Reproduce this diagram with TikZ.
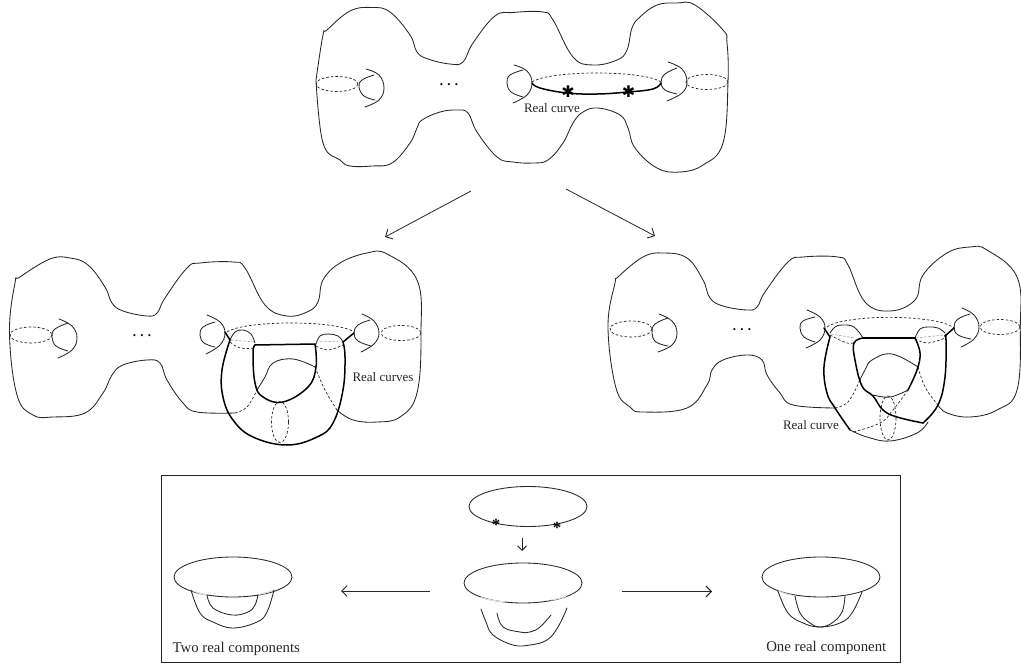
\documentclass[tikz,border=0pt]{standalone}
\usepackage{fontspec}
\setmainfont{Liberation Serif}
\newfontfamily\symfont{DejaVu Sans}
\usetikzlibrary{arrows.meta}
\tikzset{
  x=1pt,y=-1pt,
  thin line/.style={line width=0.85pt,black!85,line join=round,line cap=round},
  thick line/.style={line width=1.5pt,black,line join=round,line cap=round},
  dash line/.style={line width=0.7pt,black!85,dash pattern=on 2.6pt off 2pt},
  pale line/.style={line width=0.7pt,black!30,dash pattern=on 2.6pt off 1.5pt},
  pale solid/.style={line width=1.2pt,black!12},
  arrow line/.style={line width=0.8pt,black!85,-{Straight Barb[length=5.5pt,width=11pt,line width=0.9pt]}},
  small arrow/.style={line width=0.8pt,black!85,-{Straight Barb[length=4.5pt,width=9pt,line width=0.9pt]}},
  lab/.style={inner sep=0pt,font=\fontsize{13}{13}\selectfont,text=black!85},
  boxlab/.style={inner sep=0pt,font=\fontsize{14.8}{14.8}\selectfont,text=black!85},
  dotslab/.style={inner sep=0pt,font=\fontsize{13}{13}\selectfont\bfseries},
  bigstar/.style={inner sep=0pt,font=\symfont\fontsize{16}{16}\selectfont},
  smallstar/.style={inner sep=0pt,font=\fontsize{17}{17}\selectfont\bfseries},
  box/.style={draw=black!85,line width=0.8pt},
}
\newcommand{\sm}[1]{plot[smooth,tension=0.68] coordinates {#1}}
\begin{document}
\begin{tikzpicture}
\useasboundingbox (0,0) rectangle (1021,663);

% ---------- top surface
\draw[thin line] \sm{(316,80) (323,35) (327,30) (350,11) (372,7.5) (390,12) (410,35) (417,52) (428,59) (450,64) (463,62) (473,43) (495,16) (513,12.5) (543,12) (553,20) (573,57) (593,65) (617,60) (627,50) (632,28) (640,17) (657,5) (677,3) (695,5) (723,30) (727,43) (728,82) (723,143) (703,165) (680,172) (657,168) (635,148) (628,128) (620,115) (598,108) (583,112) (573,123) (563,143) (548,160) (533,163) (513,162) (497,157) (477,132) (468,113) (457,110) (440,112) (422,120) (417,128) (410,143) (392,163) (372,166) (350,166) (340,160) (323,143) (316,80)};
\draw[dash line] (337,84) ellipse [x radius=21,y radius=7.5];
\draw[dash line] (707,82) ellipse [x radius=21,y radius=7.5];
\draw[dash line] (532,82) .. controls (550,70) and (644,70) .. (661,82);
\draw[thin line] \sm{(366,69) (379,75) (384,88) (379,100) (365,107)};
\draw[thin line] \sm{(374,75) (362,80) (359,87) (364,96) (375,100)};
\draw[thin line] \sm{(514,65) (527,71) (532,83) (527,95) (513,103)};
\draw[thin line] \sm{(523,70) (510,75) (507,83) (511,92) (523,97)};
\draw[thin line] \sm{(668,62) (682,69) (687,82) (682,93) (667,101)};
\draw[thin line] \sm{(677,68) (665,74) (661,82) (665,90) (677,94)};
\draw[thick line] \sm{(532,83) (540,88) (567,93) (597,94) (628,92) (653,89) (661,83)};
\node[bigstar] (s1) at (568,92) {✱};
\node[bigstar] (s2) at (628.5,92) {✱};
\node[dotslab] (d1) at (449,85) {. . .};
\node[lab] (l1) at (552,108.5) {Real curve};

% ---------- arrows between levels
\coordinate (a1) at (471,191); \coordinate (a2) at (385,237);
\coordinate (b1) at (566,189); \coordinate (b2) at (655,236);
\draw[arrow line] (a1) -- (a2);
\draw[arrow line] (b1) -- (b2);

% ---------- left surface
\draw[thin line] \sm{(337,410) (353,420) (377,422) (400,417) (417,393) (421,333) (417,280) (387,254) (367,253) (340,263) (323,280) (318,302) (307,312) (287,316) (265,305) (245,268) (233,262) (200,263) (187,268) (165,298) (157,313) (147,316) (123,311) (112,303) (105,287) (88,265) (70,258) (50,259) (20,277) (15,283) (9.5,333) (17,395) (33,415) (53,417) (85,413) (103,393) (112,375) (123,365) (147,360) (160,363) (167,380) (183,403) (197,412) (235,413)};
\draw[dash line] \sm{(235,413) (247,407) (257,390)};
\draw[thin line] \sm{(257,390) (265,377) (273,363) (293,359) (315,367)};
\draw[dash line] \sm{(315,367) (325,390) (337,410)};
\draw[dash line] (31,335) ellipse [x radius=21,y radius=8];
\draw[dash line] (401,333) ellipse [x radius=20,y radius=7.5];
\draw[dash line] (227,332) .. controls (245,320) and (337,320) .. (354,332);
\draw[dash line] (280,422) ellipse [x radius=8.5,y radius=20.5];
\draw[thin line] \sm{(59,319) (72,326) (77,338) (72,350) (58,358)};
\draw[thin line] \sm{(68,323) (55,329) (52,337) (56,346) (68,351)};
\draw[thin line] \sm{(207,315) (220,322) (225,333) (220,345) (206,354)};
\draw[thin line] \sm{(215,322) (203,327) (200,335) (204,343) (215,347)};
\draw[thin line] \sm{(362,314) (374,321) (379,333) (374,344) (361,352)};
\draw[thin line] \sm{(370,320) (358,325) (354,333) (358,341) (371,346)};
\draw[thin line] \sm{(230,340) (235,332) (243,330) (251,334) (255,343)};
\draw[thin line] \sm{(316,344) (320,336) (328,334) (338,336) (343,342)};
\draw[dash line] \sm{(230,342) (240,348) (255,348)};
\draw[dash line] \sm{(316,346) (328,350) (343,345)};
\draw[pale line] (231,340) -- (255,342);
\draw[pale line] (316,342) -- (342,341);
\draw[thick line] (225,332) -- (230,340);
\draw[thick line] \sm{(230,340) (222,370) (223,397) (233,420) (253,437) (287,445) (317,437) (333,423) (343,390) (345,357) (343,342)};
\draw[thick line] (343,342) -- (354,333);
\draw[thick line] \sm{(255,345) (253,353) (255,383) (263,397) (283,402) (308,387) (316,367) (315,344)};
\draw[thick line] (255,345) -- (315,344);
\node[dotslab] (d2) at (142,336) {. . .};
\node[lab] (l2) at (383,377) {Real curves};

% ---------- right surface
\draw[thin line] \sm{(938,405) (947,413) (970,417) (997,410) (1017,390) (1020.3,327) (1017,277) (987,250) (970,247) (947,253) (923,275) (915,300) (890,311) (865,302) (848,265) (838,257) (803,257) (788,262) (765,292) (757,307) (747,310) (723,306) (710,298) (703,280) (687,258) (663,253) (643,257) (618,277) (615,283) (608,327) (616,388) (630,407) (643,412) (687,408) (707,385) (712,370) (723,360) (747,355) (762,360) (767,375) (780,393) (793,405) (835,408)};
\draw[dash line] \sm{(835,408) (848,402) (859,382)};
\draw[thin line] \sm{(859,382) (865,370) (872,360) (892,354) (918,367)};
\draw[dash line] \sm{(918,367) (925,387) (938,405)};
\draw[dash line] (631,329) ellipse [x radius=21,y radius=8];
\draw[dash line] (1000,327) ellipse [x radius=20,y radius=7.5];
\draw[dash line] (827,327) .. controls (845,314) and (937,314) .. (954,328);
\draw[dash line] (888,418) ellipse [x radius=8,y radius=22];
\draw[dash line] \sm{(908,390) (893,410) (880,423) (853,432)};
\draw[thin line] \sm{(659,314) (672,321) (677,333) (672,345) (658,352)};
\draw[thin line] \sm{(668,318) (655,324) (652,333) (656,342) (668,346)};
\draw[thin line] \sm{(807,310) (820,317) (825,328) (820,340) (806,348)};
\draw[thin line] \sm{(815,317) (803,321) (800,328) (804,337) (815,342)};
\draw[thin line] \sm{(962,308) (974,315) (979,327) (974,339) (961,347)};
\draw[thin line] \sm{(970,314) (958,319) (954,327) (958,335) (971,339)};
\draw[thin line] \sm{(830,333) (835,327) (842,325) (854,327) (863,338)};
\draw[thin line] \sm{(915,338) (920,329) (928,327) (938,328) (945,333)};
\draw[dash line] \sm{(830,335) (847,343) (856,342)};
\draw[dash line] \sm{(915,339) (928,343) (945,338)};
\draw[pale line] (831,334) -- (855,338);
\draw[pale line] (916,338) -- (944,335);
\draw[thin line] \sm{(850,430) (867,437) (890,441) (917,433) (928,422)};
\draw[thin line] \sm{(873,395) (890,397) (908,390)};
\draw[thick line] (824,328) -- (830,337);
\draw[thick line] \sm{(830,337) (824,367) (827,393) (835,408) (850,430)};
\draw[thick line] \sm{(923,423) (938,405) (945,377) (946,340) (945,336)};
\draw[thick line] (945,336) -- (954,328);
\draw[thick line] \sm{(908,390) (917,370) (920,353) (915,338)};
\draw[thick line] (915,338) -- (863,338);
\draw[thick line] \sm{(863,338) (854,343) (855,360) (862,386) (873,396) (883,410) (897,417) (923,423)};
\node[dotslab] (d3) at (742,330) {. . .};
\node[lab] (l3) at (811,425) {Real curve};

% ---------- lower box
\node[box,minimum width=739.5pt,minimum height=186.5pt,inner sep=0pt,anchor=north west] (frame) at (160.5,475) {};
% top ellipse
\draw[thin line] (528,506.5) ellipse [x radius=59,y radius=20];
\node[smallstar] (s3) at (496,525) {*};
\node[smallstar] (s4) at (557,527.5) {*};
\coordinate (c1) at (522,538); \coordinate (c2) at (522,551);
\draw[small arrow] (c1) -- (c2);
% middle
\draw[thin line] (523,583) ellipse [x radius=59,y radius=20];
\draw[pale solid] (481,597.5) .. controls (488,600) and (497,601) .. (505,602);
\draw[pale solid] (551,600) .. controls (557,599) and (562,598) .. (566,596);
\draw[thin line] \sm{(481,609) (486,622) (493,635) (513,645) (530,645) (547,640) (558,627) (567,608)};
\draw[thin line] \sm{(497,613) (503,627) (520,632) (530,632) (540,627) (551,615)};
% left
\draw[thin line] (233,577) ellipse [x radius=59,y radius=20];
\draw[pale solid] (191,590) .. controls (196,592) and (201,594) .. (207,595);
\draw[pale solid] (258,594.5) .. controls (264,593.5) and (269,592) .. (274,590);
\draw[thin line] \sm{(191,590) (200,613) (213,622) (233,628) (257,622) (267,612) (274,590)};
\draw[thin line] \sm{(207,595) (213,608) (232,615) (248,612) (255,605) (258,594.5)};
% right
\draw[thin line] (821,577) ellipse [x radius=59,y radius=20];
\draw[pale solid] (778,591) .. controls (783,593) and (789,595) .. (795,596);
\draw[thin line] \sm{(778,591) (788,613) (803,623) (820,627) (840,623) (852,613) (862,592)};
\draw[thin line] \sm{(795,596) (800,613) (810,623) (820,627) (832,623) (842,612) (845,596)};
% arrows
\coordinate (e1) at (430,591); \coordinate (e2) at (341,591);
\coordinate (f1) at (622,591.5); \coordinate (f2) at (712,591.5);
\draw[arrow line] (e1) -- (e2);
\draw[arrow line] (f1) -- (f2);
\node[boxlab,anchor=west] (l4) at (172.5,649) {Two real components};
\node[boxlab,anchor=east] (l5) at (886.5,648) {One real component};
\end{tikzpicture}
\end{document}
